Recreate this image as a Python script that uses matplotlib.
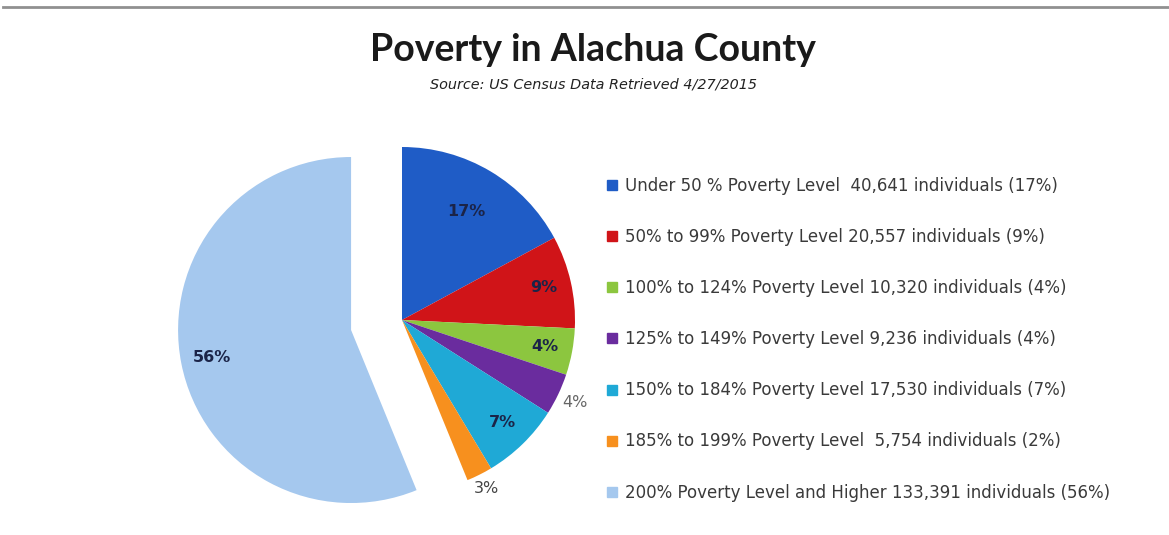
import matplotlib.pyplot as plt
from matplotlib.lines import Line2D
import numpy as np

# data
levels = ["Under 50 % Poverty Level  40,641 individuals (17%)",
          "50% to 99% Poverty Level 20,557 individuals (9%)",
          "100% to 124% Poverty Level 10,320 individuals (4%)",
          "125% to 149% Poverty Level 9,236 individuals (4%)",
          "150% to 184% Poverty Level 17,530 individuals (7%)",
          "185% to 199% Poverty Level  5,754 individuals (2%)",
          "200% Poverty Level and Higher 133,391 individuals (56%)"]
people = [40641, 20557, 10320, 9236, 17530, 5754, 133391]
pie_labels = ["17%", "9%", "4%", "4%", "7%", "3%", "56%"]

colors = ["#1f5cc6", "#d01418", "#8cc63f", "#6a2c9e", "#1fa9d6", "#f7901e", "#a5c8ee"]
explode = [0, 0, 0, 0, 0, 0, 0.3]
label_r = [0.73, 0.84, 0.84, 1.11, 0.83, 1.09, 0.82]
label_col = ["#1b2448", "#1b2448", "#1b2448", "#666666", "#1b2448", "#444444", "#1b2448"]
label_bold = [True, True, True, False, True, False, True]

W, H = 1169, 535
fig = plt.figure(figsize=(W / 100, H / 100), dpi=100)

# pie axes placed in pixels, 1 unit = 173 px, centre at (402, 320)
x0, y0, x1, y1 = 160, 140, 600, 510
ax = fig.add_axes([x0 / W, 1 - y1 / H, (x1 - x0) / W, (y1 - y0) / H])
wedges, _ = ax.pie(people, colors=colors, startangle=90, counterclock=False,
                   explode=explode, radius=1.0)
s = 173.0
ax.set_xlim(-(402 - x0) / s, (x1 - 402) / s)
ax.set_ylim(-(y1 - 320) / s, (320 - y0) / s)
ax.set_aspect('auto')

for w, lab, r, c, b in zip(wedges, pie_labels, label_r, label_col, label_bold):
    ang = np.deg2rad((w.theta1 + w.theta2) / 2)
    cx, cy = w.center
    ax.text(cx + r * np.cos(ang), cy + r * np.sin(ang), lab, ha='center', va='center',
            fontsize=11.5, color=c, fontweight='bold' if b else 'normal', family='DejaVu Sans')

# legend
handles = [Line2D([0], [0], marker='s', linestyle='none', markersize=7,
                  markerfacecolor=c, markeredgecolor=c) for c in colors]
leg = fig.legend(handles, levels, loc='upper left', bbox_to_anchor=(598 / W, 1 - 170 / H),
                 frameon=False, fontsize=12, labelspacing=1.99, handletextpad=0.3,
                 handlelength=0.9, borderaxespad=0)
for t in leg.get_texts():
    t.set_color("#3a3a3a")

fig.text(593 / W, 1 - 50 / H, "Poverty in Alachua County", ha='center', va='center',
         fontsize=27, fontweight='bold', family='Lato', color='#1a1a1a')
fig.text(593 / W, 1 - 85 / H, "Source: US Census Data Retrieved 4/27/2015", ha='center',
         va='center', fontsize=10.4, style='italic', family='DejaVu Sans', color='#222222')

# grey rule at the top
fig.add_artist(Line2D([3 / W, 1], [1 - 7 / H, 1 - 7 / H], color='#909090', lw=2))

fig.savefig("out.png", dpi=100)
